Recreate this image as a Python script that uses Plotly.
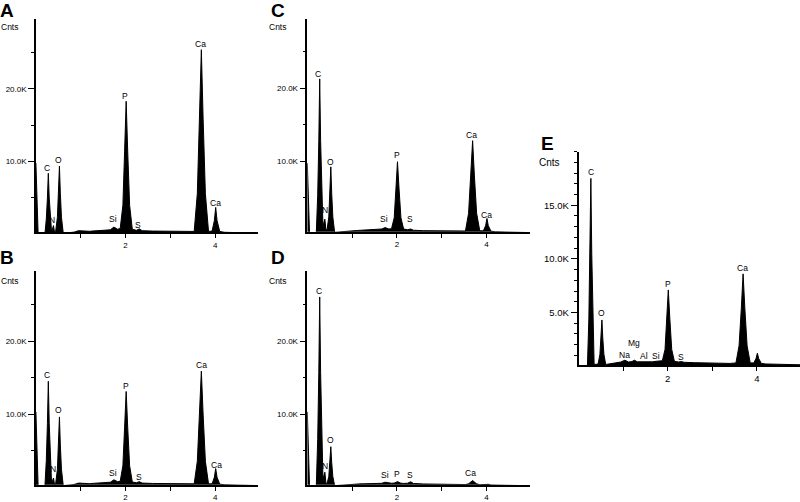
import plotly.graph_objects as go

# energy grid (keV) shared by all five spectra
ENERGY = [0.00, 0.02, 0.05, 0.20, 0.232, 0.257, 0.277, 0.297, 0.322, 0.35,
          0.368, 0.392, 0.415, 0.44, 0.48, 0.505, 0.525, 0.545, 0.57, 0.61,
          0.70, 0.85, 0.95, 1.04, 1.12, 1.20, 1.25, 1.32, 1.45, 1.49,
          1.55, 1.66, 1.74, 1.82, 1.88, 1.94, 1.978, 2.013, 2.048, 2.09,
          2.15, 2.24, 2.307, 2.37, 2.60, 3.00, 3.40, 3.53, 3.60, 3.65,
          3.69, 3.73, 3.78, 3.85, 3.93, 3.98, 4.01, 4.04, 4.10, 4.20,
          4.60, 5.00]

COUNTS_A = [9800, 5000, 0, 0, 2100, 5000, 8400, 5000, 2100, 300,
            700, 1200, 300, 400, 2350, 5650, 9400, 5650, 2350, 150,
            200, 300, 500, 450, 400, 420, 450, 480, 520, 540,
            560, 620, 1000, 700, 800, 4000, 11350, 18300, 11350, 4000,
            700, 550, 750, 500, 450, 400, 320, 400, 5600, 15750,
            25400, 15750, 5600, 400, 450, 1900, 3700, 1900, 400, 280,
            220, 150]

COUNTS_B = [10300, 5000, 0, 0, 3600, 8700, 14500, 8700, 3600, 400,
            800, 1200, 350, 400, 2400, 5750, 9600, 5750, 2400, 150,
            200, 300, 500, 450, 400, 420, 450, 480, 520, 540,
            560, 620, 950, 700, 750, 2900, 8100, 13100, 8100, 2900,
            650, 550, 700, 500, 450, 400, 320, 400, 3500, 9850,
            15900, 9850, 3500, 400, 400, 1300, 2500, 1300, 350, 280,
            220, 150]

COUNTS_C = [9700, 5000, 0, 0, 5300, 12800, 21300, 12800, 5300, 900,
            1500, 2000, 600, 500, 2300, 5500, 9200, 5500, 2300, 200,
            250, 350, 450, 450, 450, 480, 500, 520, 560, 580,
            600, 650, 850, 650, 700, 2200, 6150, 9900, 6150, 2200,
            650, 550, 650, 480, 420, 380, 320, 380, 2800, 7950,
            12800, 7950, 2800, 400, 400, 1100, 2100, 1100, 350, 280,
            220, 150]

COUNTS_D = [10300, 5000, 0, 0, 6500, 15700, 26100, 15700, 6500, 900,
            1500, 2000, 600, 400, 1400, 3300, 5500, 3300, 1400, 150,
            200, 280, 350, 380, 380, 400, 400, 420, 430, 440,
            450, 470, 620, 480, 480, 500, 600, 700, 600, 480,
            450, 480, 680, 450, 380, 350, 300, 300, 400, 650,
            850, 650, 400, 280, 280, 330, 380, 330, 250, 220,
            180, 130]

COUNTS_E = [0, 0, 0, 0, 4400, 10500, 17500, 10500, 4400, 200,
            150, 150, 150, 200, 1100, 2600, 4300, 2600, 1100, 150,
            200, 300, 380, 550, 380, 420, 550, 400, 380, 420,
            380, 400, 450, 450, 500, 1550, 4400, 7100, 4400, 1550,
            450, 380, 420, 350, 320, 280, 250, 300, 1900, 5350,
            8600, 5350, 1900, 300, 300, 700, 1200, 700, 250, 200,
            150, 120]

# element labels: (text, energy, counts)
LABELS_A = [("C", 0.24, 9180), ("N", 0.37, 1960), ("O", 0.50, 10200), ("Si", 1.73, 2100),
            ("P", 1.99, 19000), ("S", 2.27, 1300), ("Ca", 3.68, 26200), ("Ca", 4.00, 4300)]
LABELS_B = [("C", 0.255, 15300), ("N", 0.39, 2500), ("O", 0.515, 10500), ("Si", 1.73, 1900),
            ("P", 2.00, 13800), ("S", 2.29, 1400), ("Ca", 3.69, 16700), ("Ca", 4.02, 3000)]
LABELS_C = [("C", 0.245, 21960), ("N", 0.395, 3200), ("O", 0.507, 9860), ("Si", 1.71, 2000),
            ("P", 1.995, 10800), ("S", 2.29, 1960), ("Ca", 3.67, 13600), ("Ca", 4.00, 2640)]
LABELS_D = [("C", 0.27, 26900), ("N", 0.395, 2900), ("O", 0.507, 6400), ("Si", 1.73, 1560),
            ("P", 1.995, 1740), ("S", 2.29, 1560), ("Ca", 3.65, 1900)]
LABELS_E = [("C", 0.28, 18100), ("O", 0.52, 4970), ("Na", 1.03, 1000), ("Mg", 1.25, 2180),
            ("Al", 1.475, 970), ("Si", 1.73, 970), ("P", 2.00, 7660), ("S", 2.29, 850),
            ("Ca", 3.68, 9150)]

W, H = 800, 502
FONT = "Liberation Sans, Arial, sans-serif"

# pixel boxes (left, right, bottom, top)
panels = [
    dict(letter="A", counts=COUNTS_A, labels=LABELS_A, box=(35.9, 258.3, 233.3, 19.0),
         yrange=[270, 29630], xend=4.96, major=[10000, 20000], ticktext=["10.0K", "20.0K"],
         minor=5000, fs=8, letter_xy=(7, 10.5), cnts_xy=(9, 27)),
    dict(letter="B", counts=COUNTS_B, labels=LABELS_B, box=(35.9, 258.3, 486.7, 271.7),
         yrange=[270, 29720], xend=4.96, major=[10000, 20000], ticktext=["10.0K", "20.0K"],
         minor=5000, fs=8, letter_xy=(7, 259), cnts_xy=(9, 282)),
    dict(letter="C", counts=COUNTS_C, labels=LABELS_C, box=(307.3, 529.5, 232.7, 19.0),
         yrange=[270, 29544], xend=4.96, major=[10000, 20000], ticktext=["10.0K", "20.0K"],
         minor=5000, fs=8, letter_xy=(278, 10.5), cnts_xy=(277, 27)),
    dict(letter="D", counts=COUNTS_D, labels=LABELS_D, box=(307.3, 529.5, 486.7, 271.7),
         yrange=[270, 29720], xend=4.96, major=[10000, 20000], ticktext=["10.0K", "20.0K"],
         minor=5000, fs=8, letter_xy=(278, 259), cnts_xy=(277, 282)),
    dict(letter="E", counts=COUNTS_E, labels=LABELS_E, box=(578.5, 800.0, 366.7, 152.2),
         yrange=[80, 20000], xend=4.966, major=[5000, 10000, 15000],
         ticktext=["5.0K", "10.0K", "15.0K"], minor=1000, fs=9.5,
         letter_xy=(547, 144), cnts_xy=(549, 163)),
]

fig = go.Figure()
annotations = []
layout_axes = {}

for i, p in enumerate(panels):
    n = "" if i == 0 else str(i + 1)
    xa, ya = "x" + n, "y" + n
    left, right, bottom, top = p["box"]

    fig.add_trace(go.Scatter(
        x=ENERGY, y=p["counts"], xaxis=xa, yaxis=ya, mode="lines",
        line=dict(color="black", width=1), fill="tozeroy", fillcolor="black",
        showlegend=False, hoverinfo="skip"))

    layout_axes["xaxis" + n] = dict(
        domain=[left / W, right / W], anchor=ya, range=[0, p["xend"]],
        showline=True, linecolor="black", linewidth=1.5, showgrid=False, zeroline=False,
        ticks="outside", ticklen=4, tickcolor="black", tickwidth=1,
        tickvals=[1, 2, 3, 4], ticktext=["", "2", "", "4"],
        tickfont=dict(family=FONT, size=p["fs"], color="black"))
    layout_axes["yaxis" + n] = dict(
        domain=[1 - bottom / H, 1 - top / H], anchor=xa, range=p["yrange"],
        showline=True, linecolor="black", linewidth=1.5, showgrid=False, zeroline=False,
        ticks="outside", ticklen=6, tickcolor="black", tickwidth=1,
        tickvals=p["major"], ticktext=p["ticktext"],
        minor=dict(ticks="outside", ticklen=3, tickcolor="black", tick0=0, dtick=p["minor"]),
        tickfont=dict(family=FONT, size=p["fs"], color="black"))

    for txt, e, c in p["labels"]:
        annotations.append(dict(text=txt, x=e, y=c, xref=xa, yref=ya, showarrow=False,
                                xanchor="center", yanchor="middle",
                                font=dict(family=FONT, size=8.5, color="black")))

    lx, ly = p["letter_xy"]
    annotations.append(dict(text="<b>%s</b>" % p["letter"], x=lx / W, y=1 - ly / H,
                            xref="paper", yref="paper", showarrow=False,
                            xanchor="center", yanchor="middle", borderpad=0,
                            font=dict(family=FONT, size=19, color="black")))
    cx, cy = p["cnts_xy"]
    annotations.append(dict(text="Cnts", x=cx / W, y=1 - cy / H, xref="paper", yref="paper",
                            showarrow=False, xanchor="center", yanchor="middle",
                            font=dict(family=FONT, size=8.5 if p["fs"] < 9 else 10, color="black")))

fig.update_layout(
    width=W, height=H, margin=dict(l=0, r=0, t=0, b=0),
    paper_bgcolor="white", plot_bgcolor="white",
    annotations=annotations, **layout_axes)

# drop the browser's default body margin so the figure sits at the page corner
fig.write_html("out.html", config={"displayModeBar": False},
               post_script="document.body.style.margin='0';")
